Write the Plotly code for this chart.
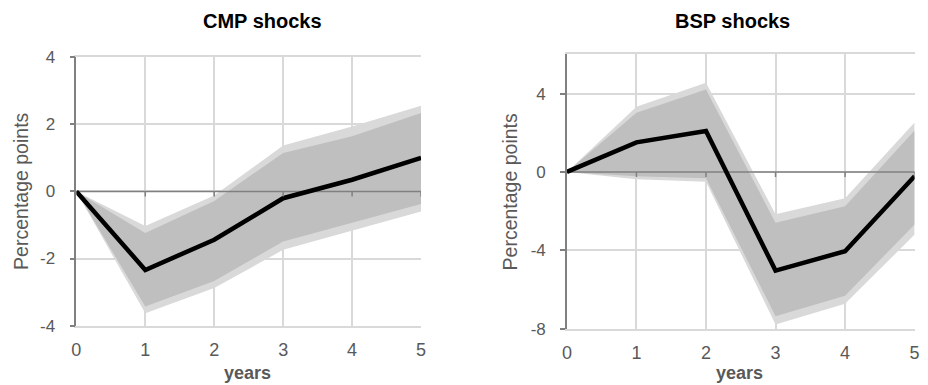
import plotly.graph_objects as go

# ---------------- data ----------------
years = [0, 1, 2, 3, 4, 5]
year_ticks = ["0", "1", "2", "3", "4", "5"]

cmp_median = [0, -2.34, -1.44, -0.20, 0.35, 1.00]
cmp_inner_upper = [0, -1.24, -0.28, 1.15, 1.65, 2.34]
cmp_inner_lower = [0, -3.43, -2.67, -1.49, -0.92, -0.37]
cmp_outer_upper = [0, -1.03, -0.12, 1.37, 1.94, 2.56]
cmp_outer_lower = [0, -3.63, -2.88, -1.74, -1.16, -0.60]

bsp_median = [0, 1.51, 2.09, -5.04, -4.05, -0.22]
bsp_inner_upper = [0, 3.02, 4.21, -2.60, -1.75, 2.12]
bsp_outer_upper = [0, 3.33, 4.55, -2.16, -1.34, 2.52]
bsp_inner_lower = [0, -0.22, -0.32, -7.37, -6.33, -2.68]
bsp_outer_lower = [0, -0.38, -0.50, -7.79, -6.73, -3.20]

cmp_yticks = [-4, -2, 0, 2, 4]
cmp_ytext = ["-4", "-2", "0", "2", "4"]
bsp_yticks = [-8, -4, 0, 4]
bsp_ytext = ["-8", "-4", "0", "4"]

W, H = 928, 385
# effective paper box observed in the rendered page
BOX_X0, BOX_W = 4.6, 918.8
BOX_Y0, BOX_H = 9.6, 365.8
FONT = "Liberation Sans, Arial, sans-serif"
GRID = "#d9d9d9"
AXIS = "#808080"
TXT = "#595959"
LIGHT = "#d9d9d9"
DARK = "#bfbfbf"

fig = go.Figure()


def band(xa, ya, lo, hi, color):
    fig.add_trace(go.Scatter(
        x=years + years[::-1], y=hi + lo[::-1], xaxis=xa, yaxis=ya,
        fill="toself", fillcolor=color, mode="lines", line=dict(width=0),
        hoverinfo="skip", showlegend=False))


for xa, ya, med, iu, il, ou, ol in [
    ("x", "y", cmp_median, cmp_inner_upper, cmp_inner_lower, cmp_outer_upper, cmp_outer_lower),
    ("x2", "y2", bsp_median, bsp_inner_upper, bsp_inner_lower, bsp_outer_upper, bsp_outer_lower),
]:
    band(xa, ya, ol, ou, LIGHT)
    band(xa, ya, il, iu, DARK)
    # zero reference line
    fig.add_trace(go.Scatter(x=[years[0], years[-1]], y=[0, 0], xaxis=xa, yaxis=ya,
                             mode="lines", line=dict(color=AXIS, width=1.5),
                             hoverinfo="skip", showlegend=False))
    fig.add_trace(go.Scatter(x=years, y=med, xaxis=xa, yaxis=ya, mode="lines",
                             line=dict(color="black", width=4.5),
                             showlegend=False))
    # small tick marks on the zero line
    for yr in years[1:]:
        fig.add_shape(type="line", xref=xa, yref=ya, x0=yr, x1=yr,
                      ysizemode="pixel", yanchor=0, y0=0, y1=-5,
                      line=dict(color=AXIS, width=1.5), layer="above")


def px_x(p):
    return (p - BOX_X0) / BOX_W


def px_y(p):
    return 1 - (p - BOX_Y0) / BOX_H


xcommon = dict(range=[0, 5], tickmode="array", tickvals=years, ticktext=year_ticks,
               showgrid=True, gridcolor=GRID, gridwidth=1.5,
               showline=True, linecolor=GRID, linewidth=1.5, mirror=True,
               zeroline=False, ticks="", ticklabelstandoff=7,
               tickfont=dict(family=FONT, size=18, color=TXT))
ycommon = dict(showgrid=True, gridcolor=GRID, gridwidth=1.5,
               showline=True, linecolor=AXIS, linewidth=1.5, mirror=False,
               zeroline=False, ticks="outside", ticklen=5, tickcolor=AXIS, tickwidth=1.5,
               ticklabelstandoff=11, tickmode="array",
               tickfont=dict(family=FONT, size=17, color=TXT))

fig.update_layout(
    width=W, height=H, autosize=False, margin=dict(l=0, r=0, t=0, b=0),
    paper_bgcolor="white", plot_bgcolor="white",
    xaxis=dict(domain=[px_x(76), px_x(421)], anchor="y", **xcommon),
    yaxis=dict(domain=[px_y(326), px_y(58)], anchor="x", range=[-4, 4],
               tickvals=cmp_yticks, ticktext=cmp_ytext, **ycommon),
    xaxis2=dict(domain=[px_x(567), px_x(915)], anchor="y2", **xcommon),
    yaxis2=dict(domain=[px_y(329), px_y(55)], anchor="x2", range=[-8, 6],
                tickvals=bsp_yticks, ticktext=bsp_ytext, **ycommon),
)

annots = [
    dict(text="<b>CMP shocks</b>", x=px_x(262), y=px_y(22), size=20, color="black", angle=0),
    dict(text="<b>BSP shocks</b>", x=px_x(733), y=px_y(22), size=20, color="black", angle=0),
    dict(text="<b>years</b>", x=px_x(247), y=px_y(373), size=18, color=TXT, angle=0),
    dict(text="<b>years</b>", x=px_x(740), y=px_y(373), size=18, color=TXT, angle=0),
    dict(text="Percentage points", x=px_x(21), y=px_y(192), size=19.5, color=TXT, angle=-90),
    dict(text="Percentage points", x=px_x(511), y=px_y(192), size=19.5, color=TXT, angle=-90),
]
for a in annots:
    fig.add_annotation(text=a["text"], x=a["x"], y=a["y"], xref="paper", yref="paper",
                       xanchor="center", yanchor="middle", showarrow=False,
                       textangle=a["angle"],
                       font=dict(family=FONT, size=a["size"], color=a["color"]))

fig.write_html("out.html", config={"responsive": False, "displayModeBar": False},
               post_script="document.body.style.margin='0px';")
